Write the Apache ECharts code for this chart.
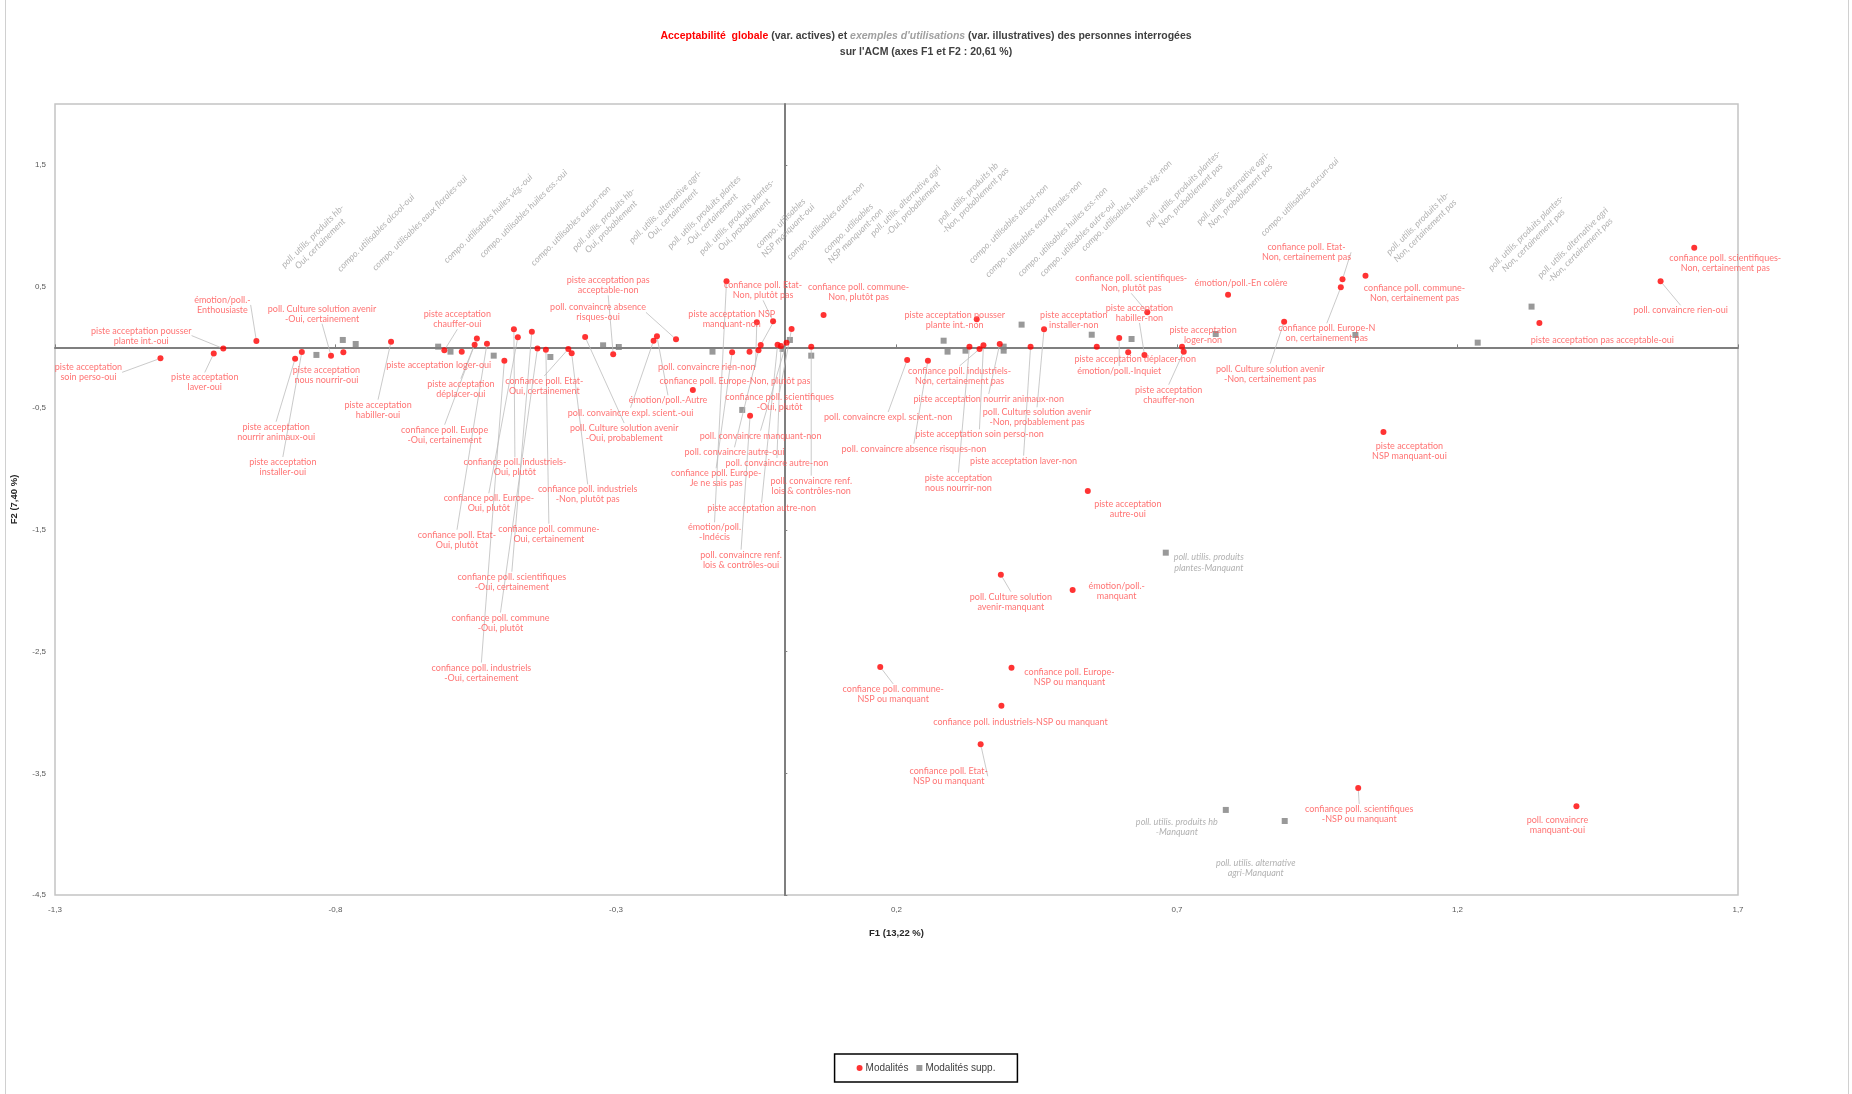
<!DOCTYPE html>
<html><head><meta charset="utf-8">
<script src="https://cdn.jsdelivr.net/npm/echarts@6/dist/echarts.min.js"></script>
<style>html,body{margin:0;padding:0;background:#fff}#c{width:1852px;height:1094px}</style>
</head><body><div id="c"></div>
<script>
// ---- axis ticks ----
const xTicks = [-1.3, -0.8, -0.3, 0.2, 0.7, 1.2, 1.7];
const yTicks = [-4.5, -3.5, -2.5, -1.5, -0.5, 0.5, 1.5];

// ---- active modalities (Modalités) ----
const modLabels = [
 'émotion/poll.-\nEnthousiaste','piste acceptation pousser\nplante int.-oui','piste acceptation\nsoin perso-oui','piste acceptation\nlaver-oui',
 'poll. Culture solution avenir\n-Oui, certainement','piste acceptation\nnous nourrir-oui','piste acceptation\nnourrir animaux-oui','piste acceptation\ninstaller-oui',
 'piste acceptation\nhabiller-oui','piste acceptation\nchauffer-oui','piste acceptation loger-oui','piste acceptation\ndéplacer-oui',
 'confiance poll. Europe\n-Oui, certainement','confiance poll. Etat-\nOui, certainement','confiance poll. industriels-\nOui, plutôt','confiance poll. Europe-\nOui, plutôt',
 'confiance poll. Etat-\nOui, plutôt','confiance poll. commune-\nOui, certainement','confiance poll. scientifiques\n-Oui, certainement','confiance poll. commune\n-Oui, plutôt',
 'confiance poll. industriels\n-Oui, certainement','confiance poll. industriels\n-Non, plutôt pas','piste acceptation pas\nacceptable-non','poll. convaincre absence\nrisques-oui',
 'poll. convaincre expl. scient.-oui','poll. Culture solution avenir\n-Oui, probablement','émotion/poll.-Autre','piste acceptation NSP\nmanquant-non',
 'confiance poll. Etat-\nNon, plutôt pas','poll. convaincre rien-non','confiance poll. Europe-Non, plutôt pas','confiance poll. scientifiques\n-Oui, plutôt',
 'poll. convaincre manquant-non','poll. convaincre autre-oui','poll. convaincre autre-non','confiance poll. Europe-\nJe ne sais pas',
 'poll. convaincre renf.\nlois & contrôles-non','piste acceptation autre-non','émotion/poll.\n-Indécis','poll. convaincre renf.\nlois & contrôles-oui',
 'confiance poll. commune-\nNon, plutôt pas','piste acceptation pousser\nplante int.-non','confiance poll. industriels-\nNon, certainement pas','piste acceptation nourrir animaux-non',
 'poll. Culture solution avenir\n-Non, probablement pas','poll. convaincre expl. scient.-non','piste acceptation soin perso-non','poll. convaincre absence risques-non',
 'piste acceptation laver-non','piste acceptation\nnous nourrir-non','piste acceptation\ninstaller-non','confiance poll. scientifiques-\nNon, plutôt pas',
 'piste acceptation\nhabiller-non','piste acceptation déplacer-non','émotion/poll.-Inquiet','piste acceptation\nchauffer-non',
 'piste acceptation\nloger-non','émotion/poll.-En colère','confiance poll. Etat-\nNon, certainement pas','confiance poll. commune-\nNon, certainement pas',
 'confiance poll. Europe-N\non, certainement pas','poll. Culture solution avenir\n-Non, certainement pas','piste acceptation pas acceptable-oui','poll. convaincre rien-oui',
 'confiance poll. scientifiques-\nNon, certainement pas','piste acceptation\nNSP manquant-oui','piste acceptation\nautre-oui','poll. Culture solution\navenir-manquant',
 'émotion/poll.-\nmanquant','confiance poll. commune-\nNSP ou manquant','confiance poll. Europe-\nNSP ou manquant','confiance poll. industriels-NSP ou manquant',
 'confiance poll. Etat-\nNSP ou manquant','confiance poll. scientifiques\n-NSP ou manquant','poll. convaincre\nmanquant-oui',''
];
const modF1 = [-0.941,-1.000,-1.112,-1.017,-0.808,-0.786,-0.872,-0.860,-0.701,-0.606,-0.575,-0.548,-0.552,-0.385,-0.482,-0.475,-0.530,-0.425,-0.450,-0.440,
 -0.499,-0.379,-0.305,-0.193,-0.233,-0.355,-0.227,-0.042,-0.020,-0.049,-0.163,0.013,0.004,-0.046,-0.006,-0.093,0.048,-0.012,-0.103,-0.061,
 0.070,0.343,0.348,0.384,0.463,0.219,0.355,0.256,0.439,0.330,0.557,0.647,0.642,0.613,0.597,0.712,0.709,0.791,0.995,1.036,
 0.992,0.891,1.346,1.562,1.622,1.068,0.541,0.386,0.514,0.171,0.405,0.387,0.350,1.023,1.412,-0.062];
const modF2 = [0.053,-0.010,-0.090,-0.050,-0.068,-0.040,-0.093,-0.038,0.047,-0.024,-0.035,0.072,0.022,-0.013,0.149,0.083,0.030,-0.019,0.129,-0.010,
 -0.109,-0.049,-0.057,0.066,0.055,0.085,0.091,0.020,0.214,0.206,-0.350,0.151,0.039,-0.024,0.012,-0.040,0.006,0.022,0.543,-0.561,
 0.266,0.231,-0.013,0.028,0.149,-0.104,0.017,-0.109,0.006,0.006,0.006,0.288,-0.062,-0.040,0.077,-0.035,0.006,0.433,0.560,0.589,
 0.494,0.211,0.200,0.543,0.819,-0.695,-1.180,-1.868,-1.994,-2.626,-2.632,-2.944,-3.261,-3.620,-3.771,-0.035];

// ---- supplementary modalities (Modalités supp.) ----
const suppLabels = [
 'poll. utilis. produits hb-\nOui, certainement','compo. utilisables alcool-oui','compo. utilisables eaux florales-oui','compo. utilisables huiles vég.-oui',
 'compo. utilisables huiles ess.-oui','compo. utilisables aucun-non','poll. utilis. produits hb-\nOui, probablement','poll. utilis. alternative agri-\nOui, certainement',
 'poll. utilis. produits plantes\n-Oui, certainement','poll. utilis. produits plantes-\nOui, probablement','compo. utilisables\nNSP manquant-oui','compo. utilisables autre-non',
 'compo. utilisables\nNSP manquant-non','poll. utilis. alternative agri\n-Oui, probablement','poll. utilis. produits hb\n-Non, probablement pas','compo. utilisables alcool-non',
 'compo. utilisables eaux florales-non','compo. utilisables huiles ess.-non','compo. utilisables autre-oui','compo. utilisables huiles vég.-non',
 'poll. utilis. produits plantes-\nNon, probablement pas','poll. utilis. alternative agri-\nNon, probablement pas','compo. utilisables aucun-oui','poll. utilis. produits hb-\nNon, certainement pas',
 'poll. utilis. produits plantes-\nNon, certainement pas','poll. utilis. alternative agri\n-Non, certainement pas','poll. utilis. produits\nplantes-Manquant','poll. utilis. produits hb\n-Manquant',
 'poll. utilis. alternative\nagri-Manquant'
];
const suppF1 = [-0.834,-0.787,-0.764,-0.617,-0.595,-0.518,-0.417,-0.323,-0.295,-0.128,-0.075,-0.003,0.010,0.048,0.284,0.291,0.323,0.391,0.391,0.423,
 0.548,0.619,0.769,1.018,1.236,1.332,0.680,0.787,0.892];
const suppF2 = [-0.062,0.061,0.028,0.006,-0.035,-0.068,-0.079,0.017,0.003,-0.035,-0.514,-0.013,0.061,-0.068,0.055,-0.035,-0.027,0.006,-0.027,0.187,
 0.104,0.069,0.110,0.102,0.039,0.335,-1.687,-3.801,-3.892];

// ---- label layout (pixel offsets of label centres from their point; leader-line flags) ----
const modLabelOffset = [[-34,-36],[-82,-13],[-72,14],[-9,29],[-9,-42],[-17,23],[-19,73],[-19,115],[-13,68],[13,-31],
 [-23,13],[-16,50],[-30,90],[-24,37],[1,138],[-29,166],[-30,196],[3,184],[-20,250],[-37,274],
 [-23,312],[16,141],[-5,-69],[-78,-27],[-23,72],[39,96],[11,64],[-29,-26],[-10,-31],[-50,45],
 [42,-9],[-12,73],[-26,93],[-24,102],[-4,117],[-16,126],[0,139],[-16,163],[-12,251],[-9,144],
 [35,-23],[-22,1],[-20,27],[-11,55],[-7,88],[-19,57],[-4,89],[-14,88],[-7,114],[-11,136],
 [-23,-27],[-16,-29],[-5,-42],[7,7],[0,33],[-15,43],[21,-12],[13,-12],[-36,-27],[49,17],
 [-14,46],[-14,52],[63,17],[20,29],[31,15],[26,19],[40,18],[10,27],[44,1],[13,27],
 [58,9],[19,16],[-32,32],[1,26],[-19,19],[0,0]];
const modLeader = [1,1,1,1,1,0,1,1,1,1, 0,1,1,1,1,1,1,1,1,1, 1,1,1,1,1,1,1,1,1,1, 0,1,1,1,1,1,1,1,1,1,
 0,0,1,1,1,1,1,1,1,1, 0,1,1,0,1,1,0,0,1,0, 1,1,0,1,0,0,0,1,0,1, 0,0,1,1,0,0];
const suppLabelOffset = [[0,-115],[33,-107],[64,-121],[50,-128],[73,-138],[77,-130],[57,-134],[66,-135],[89,-131],[28,-131],
 [42,-183],[43,-128],[62,-108],[98,-151],[28,-144],[61,-128],[68,-122],[59,-115],[74,-112],[105,-119],
 [95,-143],[105,-147],[84,-137],[66,-108],[52,-106],[45,-60],[43,10],[-49,17],[-29,47]];
const suppRotatedCount = 26;

const fmt = v => String(v).replace('.', ',');
const narrow = "'Liberation Sans Narrow','Liberation Sans',Arial,sans-serif";
const lab = "Lato,'Open Sans',sans-serif";

const modData = modF1.map((x, i) => ({ name: modLabels[i], value: [x, modF2[i]], labelLine: { show: !!modLeader[i] } }));
const suppData = suppF1.map((x, i) => ({ name: suppLabels[i], value: [x, suppF2[i]] }));

function layoutFrom(offsets, rot) {
  return function (p) {
    const o = offsets[p.dataIndex] || [0, 0];
    const r = p.rect;
    return { x: r.x + r.width / 2 + o[0], y: r.y + r.height / 2 + o[1], align: 'center', verticalAlign: 'middle', rotate: rot ? rot(p.dataIndex) : 0 };
  };
}

const chart = echarts.init(document.getElementById('c'));
chart.setOption({
  animation: false,
  backgroundColor: '#fff',
  title: {
    left: 'center', top: 23,
    text: '{r|Acceptabilité  globale} {b|(var. actives) et} {g|exemples d\'utilisations} {b|(var. illustratives) des personnes interrogées}\n{b|sur l\'ACM (axes F1 et F2 : 20,61 %)}',
    textStyle: {
      fontFamily: narrow, fontSize: 10.5, fontWeight: 'bold', color: '#404040', lineHeight: 16,
      rich: {
        r: { color: '#ff0000', fontWeight: 'bold', fontFamily: narrow, fontSize: 10.5, lineHeight: 16 },
        b: { color: '#404040', fontWeight: 'bold', fontFamily: narrow, fontSize: 10.5, lineHeight: 16 },
        g: { color: '#a0a0a0', fontWeight: 'bold', fontStyle: 'italic', fontFamily: narrow, fontSize: 10.5, lineHeight: 16 }
      }
    }
  },
  legend: {
    data: ['Modalités', 'Modalités supp.'],
    left: 'center', top: 1054, padding: [9, 22],
    borderColor: '#000', borderWidth: 1.5,
    itemWidth: 6, itemHeight: 6, itemGap: 8,
    textStyle: { fontFamily: narrow, fontSize: 10, color: '#404040', padding: [0, 0, 0, -2] }
  },
  graphic: [{ type: 'rect', silent: true, shape: { x: 5.5, y: -5, width: 1843, height: 1110 }, style: { fill: 'none', stroke: '#d0d0d0', lineWidth: 1 } }],
  grid: { left: 55, top: 104, width: 1683, height: 791, show: true, borderColor: '#c4c4c4', borderWidth: 1.5, outerBoundsMode: 'none' },
  xAxis: [
    { type: 'value', min: -1.3, max: 1.7, interval: 0.1, position: 'bottom',
      name: 'F1 (13,22 %)', nameLocation: 'middle', nameGap: 33,
      nameTextStyle: { fontFamily: narrow, fontWeight: 'bold', fontSize: 9.5, color: '#262626' },
      axisLine: { show: false, onZero: false }, axisTick: { show: false }, splitLine: { show: false },
      axisLabel: { customValues: xTicks, formatter: fmt, fontFamily: narrow, fontSize: 8, color: '#595959', margin: 11 } },
    { type: 'value', min: -1.3, max: 1.7, interval: 0.1, position: 'top',
      axisLine: { show: true, onZero: true, lineStyle: { color: '#7f7f7f', width: 2 } },
      axisTick: { show: true, customValues: xTicks, length: 3, lineStyle: { color: '#7f7f7f' } },
      axisLabel: { show: false }, splitLine: { show: false } }
  ],
  yAxis: [
    { type: 'value', min: -4.5, max: 2, interval: 0.5, position: 'left',
      name: 'F2 (7,40 %)', nameLocation: 'middle', nameGap: 36, nameRotate: 90,
      nameTextStyle: { fontFamily: narrow, fontWeight: 'bold', fontSize: 9.5, color: '#262626' },
      axisLine: { show: false, onZero: false }, axisTick: { show: false }, splitLine: { show: false },
      axisLabel: { customValues: yTicks, formatter: fmt, fontFamily: narrow, fontSize: 8, color: '#595959', margin: 9 } },
    { type: 'value', min: -4.5, max: 2, interval: 0.5, position: 'right',
      axisLine: { show: true, onZero: true, lineStyle: { color: '#7f7f7f', width: 2 } },
      axisTick: { show: true, customValues: yTicks, length: 3, lineStyle: { color: '#7f7f7f' } },
      axisLabel: { show: false }, splitLine: { show: false } }
  ],
  series: [
    { name: 'Modalités supp.', type: 'scatter', symbol: 'rect', symbolSize: 6, z: 3,
      itemStyle: { color: '#7f7f7f' }, emphasis: { disabled: true },
      data: suppData,
      label: { show: true, formatter: p => p.name, color: '#9e9e9e', fontStyle: 'italic', fontFamily: lab, fontSize: 9, lineHeight: 10.5 },
      labelLayout: layoutFrom(suppLabelOffset, i => (i < suppRotatedCount ? 45 : 0)) },
    { name: 'Modalités', type: 'scatter', symbol: 'circle', symbolSize: 6, z: 4,
      itemStyle: { color: '#ff0000' }, emphasis: { disabled: true },
      data: modData,
      label: { show: true, formatter: p => p.name, color: '#ff5050', fontFamily: lab, fontSize: 9, lineHeight: 10 },
      labelLine: { show: false, lineStyle: { color: '#bdbdbd', width: 0.8 } },
      labelLayout: layoutFrom(modLabelOffset) }
  ]
});
</script></body></html>
